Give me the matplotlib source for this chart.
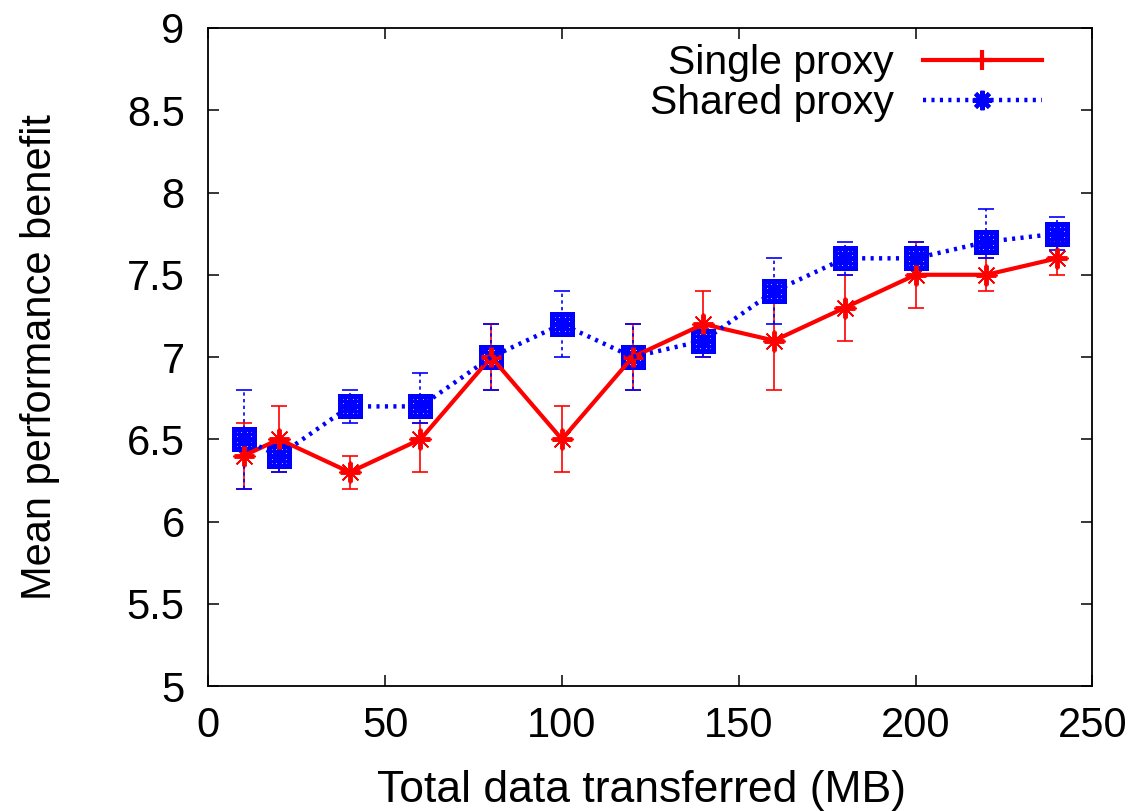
import matplotlib
matplotlib.use('Agg')
import matplotlib.pyplot as plt
from matplotlib.lines import Line2D

plt.rcParams['font.family'] = ['Liberation Sans', 'DejaVu Sans']

size_mb = [10, 20, 40, 60, 80, 100, 120, 140, 160, 180, 200, 220, 240]

single = [6.4, 6.5, 6.3, 6.5, 7.0, 6.5, 7.0, 7.2, 7.1, 7.3, 7.5, 7.5, 7.6]
single_lo = [6.2, 6.3, 6.2, 6.3, 6.8, 6.3, 6.8, 7.0, 6.8, 7.1, 7.3, 7.4, 7.5]
single_hi = [6.6, 6.7, 6.4, 6.6, 7.2, 6.7, 7.2, 7.4, 7.4, 7.5, 7.7, 7.6, 7.7]

shared = [6.5, 6.4, 6.7, 6.7, 7.0, 7.2, 7.0, 7.1, 7.4, 7.6, 7.6, 7.7, 7.75]
shared_lo = [6.2, 6.3, 6.6, 6.6, 6.8, 7.0, 6.8, 7.0, 7.2, 7.5, 7.5, 7.6, 7.65]
shared_hi = [6.8, 6.5, 6.8, 6.9, 7.2, 7.4, 7.2, 7.2, 7.6, 7.7, 7.7, 7.9, 7.85]

red = '#ff0000'
blue = '#0000ff'
star = (8, 2, 0)

fig = plt.figure(figsize=(11.38, 8.11), dpi=100)
ax = fig.add_axes([0.183, 0.154, 0.777, 0.8115])

# red error bars with asterisk points
s_err = [[v - l for v, l in zip(single, single_lo)], [h - v for v, h in zip(single, single_hi)]]
ax.errorbar(size_mb, single, yerr=s_err, fmt='none', ecolor=red, elinewidth=1.2,
            capsize=6, capthick=1.2, zorder=2)
ax.plot(size_mb, single, linestyle='none', marker=star, markersize=16,
        markeredgecolor=red, markeredgewidth=1.2, zorder=2)

# blue error bars (dashed), box + asterisk points
sh_err = [[v - l for v, l in zip(shared, shared_lo)], [h - v for v, h in zip(shared, shared_hi)]]
eb = ax.errorbar(size_mb, shared, yerr=sh_err, fmt='none', ecolor=blue, elinewidth=1.2,
                 capsize=6, capthick=1.2, zorder=3)
for coll in eb[2]:
    coll.set_linestyle((0, (2, 2)))
for cap in eb[1]:
    cap.set_linestyle('none')
ax.plot(size_mb, shared, linestyle='none', marker='s', markersize=14,
        markerfacecolor='none', markeredgecolor=blue, markeredgewidth=3.6, zorder=3)
ax.plot(size_mb, shared, linestyle='none', marker=star, markersize=14,
        markeredgecolor=blue, markeredgewidth=3.6, zorder=3)

# lines
ax.plot(size_mb, single, color=red, linewidth=3, marker='+', markersize=15,
        markeredgewidth=3.5, zorder=4)
ax.plot(size_mb, shared, color=blue, linewidth=3.2, linestyle=(0, (0.7, 1.2)),
        dash_capstyle='butt', zorder=4)

ax.set_xlim(0, 250)
ax.set_ylim(5, 9)
ax.set_xticks([0, 50, 100, 150, 200, 250])
ax.set_yticks([5, 5.5, 6, 6.5, 7, 7.5, 8, 8.5, 9])
ax.set_yticklabels(['5', '5.5', '6', '6.5', '7', '7.5', '8', '8.5', '9'])
ax.tick_params(direction='in', length=8, width=1.1, top=True, right=True,
               labelsize=30)
ax.tick_params(axis='x', pad=14)
ax.tick_params(axis='y', pad=17)
for sp in ax.spines.values():
    sp.set_linewidth(1.3)

ax.set_xlabel('Total data transferred (MB)', fontsize=32)
ax.set_ylabel('Mean performance benefit', fontsize=30)
ax.xaxis.set_label_coords(0.49, -0.127)
ax.yaxis.set_label_coords(-0.168, 0.5)

handles = [
    Line2D([], [], color=red, linewidth=3, marker='+', markersize=15, markeredgewidth=3),
    Line2D([], [], color=blue, linewidth=3.2, linestyle=(0, (0.7, 1.2)),
           marker=star, markersize=14, markeredgewidth=3),
]
ax.legend(handles, ['Single proxy', 'Shared proxy'], loc='upper right',
          frameon=False, fontsize=29.5, markerfirst=False, handlelength=2.9,
          handletextpad=0.7, labelspacing=0.05, borderaxespad=0.0,
          bbox_to_anchor=(0.961, 1.0))

fig.savefig('out.png', dpi=100)
